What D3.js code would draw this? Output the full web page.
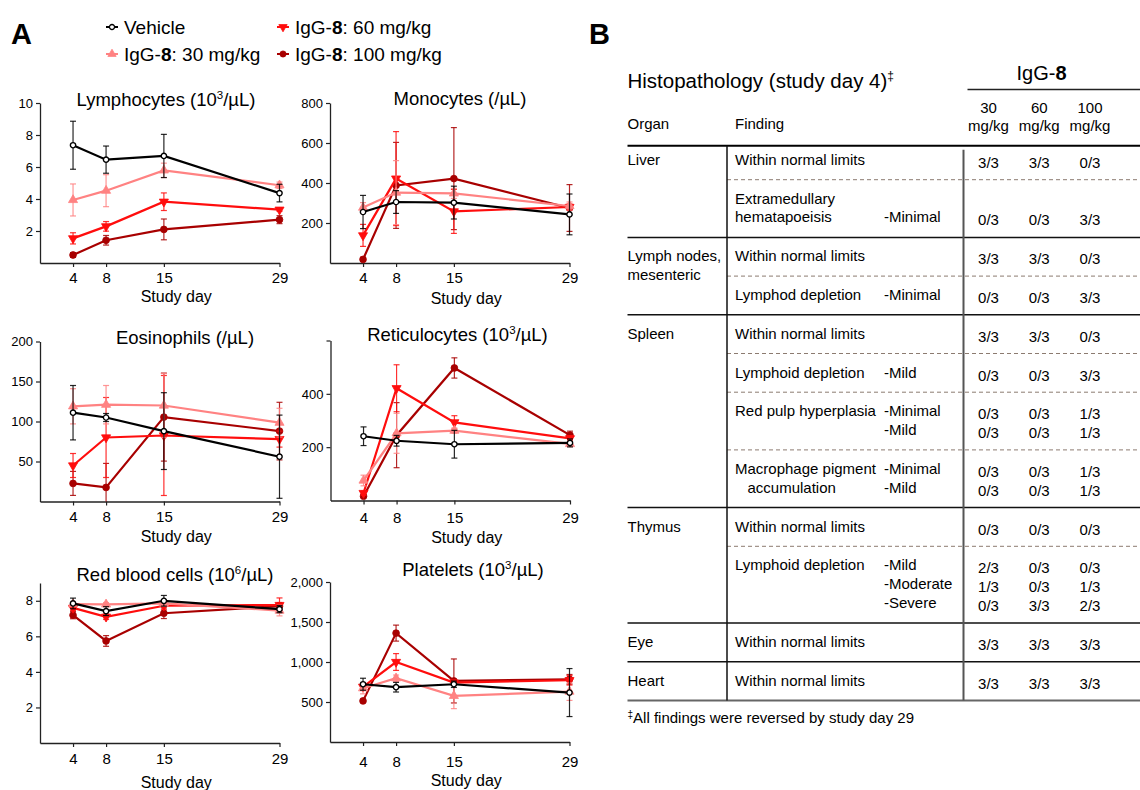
<!DOCTYPE html>
<html>
<head>
<meta charset="utf-8">
<script src="https://cdn.jsdelivr.net/npm/d3@7"></script>
<style>
  body { margin: 0; background: #fff; }
  text { font-family: "Liberation Sans", Arial, sans-serif; fill: #000; }
</style>
</head>
<body>
<svg id="fig" width="1140" height="790"></svg>
<script>
// ---- data ----
const days = [4, 8, 15, 29];
const groupNames = ["Vehicle", "30 mg/kg", "60 mg/kg", "100 mg/kg"];

// rows: Vehicle, 30, 60, 100 mg/kg ; mean and error per study day
const lymphMean = [[7.36, 6.46, 6.69, 4.37], [3.94, 4.52, 5.79, 4.86], [1.54, 2.29, 3.83, 3.33], [0.5, 1.42, 2.1, 2.71]];
const lymphErr  = [[1.5, 0.85, 1.35, 0.55], [1.0, 1.0, 0.45, 0.2], [0.35, 0.3, 0.55, 0.1], [0.15, 0.3, 0.65, 0.25]];

const monoMean = [[255, 305, 302, 243], [277, 352, 348, 285], [138, 422, 258, 280], [18, 388, 422, 275]];
const monoErr  = [[83, 57, 82, 102], [25, 160, 25, 20], [55, 235, 110, 15], [10, 215, 255, 117]];

const eosMean = [[111, 105, 88, 56], [119, 121, 120, 98.5], [45, 80, 82.5, 78], [22.6, 17.6, 105.5, 88]];
const eosErr  = [[34, 5, 48, 52], [22, 24, 40, 18], [15, 50, 75, 10], [15, 30, 55, 36]];

const retMean = [[241, 224, 211, 216], [75, 252, 262, 212], [28, 421, 293, 233], [16, 245, 497, 245]];
const retErr  = [[35, 20, 52, 15], [20, 75, 10, 10], [8, 88, 25, 10], [5, 122, 38, 15]];

const rbcMean = [[7.85, 7.42, 8.0, 7.53], [7.81, 7.8, 7.85, 7.45], [7.6, 7.1, 7.72, 7.76], [7.19, 5.74, 7.3, 7.7]];
const rbcErr  = [[0.3, 0.25, 0.3, 0.2], [0.1, 0.1, 0.15, 0.3], [0.15, 0.15, 0.2, 0.4], [0.2, 0.3, 0.3, 0.2]];

const pltMean = [[722, 685, 722, 618], [672, 797, 577, 630], [690, 1000, 742, 772], [514, 1361, 763, 784]];
const pltErr  = [[75, 60, 40, 300], [70, 40, 160, 110], [40, 105, 30, 60], [20, 100, 275, 60]];

// histopathology table
const organNames = [["Liver"], ["Lymph nodes,", "mesenteric"], ["Spleen"], ["Thymus"], ["Eye"], ["Heart"]];
const doseCols = ["30", "60", "100"];
// [organ index, lines of [finding, grade, 30, 60, 100]]
const histoBlocks = [
  [0, [["Within normal limits", "", "3/3", "3/3", "0/3"]]],
  [0, [["Extramedullary", "", "", "", ""], ["hematapoeisis", "-Minimal", "0/3", "0/3", "3/3"]]],
  [1, [["Within normal limits", "", "3/3", "3/3", "0/3"]]],
  [1, [["Lymphod depletion", "-Minimal", "0/3", "0/3", "3/3"]]],
  [2, [["Within normal limits", "", "3/3", "3/3", "0/3"]]],
  [2, [["Lymphoid depletion", "-Mild", "0/3", "0/3", "3/3"]]],
  [2, [["Red pulp hyperplasia", "-Minimal", "0/3", "0/3", "1/3"], ["", "-Mild", "0/3", "0/3", "1/3"]]],
  [2, [["Macrophage pigment", "-Minimal", "0/3", "0/3", "1/3"], ["   accumulation", "-Mild", "0/3", "0/3", "1/3"]]],
  [3, [["Within normal limits", "", "0/3", "0/3", "0/3"]]],
  [3, [["Lymphoid depletion", "-Mild", "2/3", "0/3", "0/3"], ["", "-Moderate", "1/3", "0/3", "1/3"], ["", "-Severe", "0/3", "3/3", "2/3"]]],
  [4, [["Within normal limits", "", "3/3", "3/3", "3/3"]]],
  [5, [["Within normal limits", "", "3/3", "3/3", "3/3"]]],
];

// ---- styles ----
const colors = ["#000000", "#ff8282", "#ff0d0d", "#a80000"];
const symbols = [d3.symbolCircle, d3.symbolTriangle, d3.symbolTriangle, d3.symbolCircle];
const symRotate = [0, 0, 180, 0];
const symFill = ["#fff", colors[1], colors[2], colors[3]];

const svg = d3.select("#fig");

// panel letters
svg.append("text").attr("x", 11).attr("y", 44).attr("font-size", 29).attr("font-weight", "bold").text("A");
svg.append("text").attr("x", 589).attr("y", 44).attr("font-size", 29).attr("font-weight", "bold").text("B");

// legend
const legendPos = [[112, 27], [112, 54], [283, 27], [283, 54]];
const legendLabels = [["Vehicle"], ["IgG-", "8", ": 30 mg/kg"], ["IgG-", "8", ": 60 mg/kg"], ["IgG-", "8", ": 100 mg/kg"]];
legendLabels.forEach((lab, i) => {
  const g = svg.append("g").attr("transform", `translate(${legendPos[i][0]},${legendPos[i][1]})`);
  g.append("line").attr("x1", -6).attr("x2", 6).attr("stroke", colors[i]).attr("stroke-width", 2);
  g.append("path")
    .attr("d", d3.symbol().type(symbols[i]).size(i === 0 ? 20 : 30)())
    .attr("transform", `rotate(${symRotate[i]})`)
    .attr("fill", symFill[i]).attr("stroke", colors[i]).attr("stroke-width", i === 0 ? 1.3 : 0.8);
  const t = g.append("text").attr("x", 12).attr("y", 7).attr("font-size", 19);
  lab.forEach((s, k) => t.append("tspan").attr("font-weight", k === 1 ? "bold" : null).text(s));
});

// ---- panels ----
const panels = [
  { title: ["Lymphocytes (10", "3", "/µL)"], mean: lymphMean, err: lymphErr, yMax: 10, ticks: [2, 4, 6, 8, 10], x0: 40, top: 103, tx: 126, ty: 106, tickOff: 20, labOff: 39 },
  { title: ["Monocytes (/µL)"], mean: monoMean, err: monoErr, yMax: 800, ticks: [200, 400, 600, 800], x0: 330, top: 103, tx: 130, ty: 105, tickOff: 20, labOff: 40.5 },
  { title: ["Eosinophils (/µL)"], mean: eosMean, err: eosErr, yMax: 200, ticks: [50, 100, 150, 200], x0: 40, top: 341.5, tx: 145, ty: 344, tickOff: 20, labOff: 40.5 },
  { title: ["Reticulocytes (10", "3", "/µL)"], mean: retMean, err: retErr, yMax: 600, ticks: [200, 400, 600], hideTop: true, x0: 330.5, top: 340.5, tx: 127, ty: 341, tickOff: 22, labOff: 42 },
  { title: ["Red blood cells (10", "6", "/µL)"], mean: rbcMean, err: rbcErr, yMax: 9, ticks: [2, 4, 6, 8], x0: 40, top: 583, tx: 135, ty: 581, tickOff: 21, labOff: 44.5 },
  { title: ["Platelets (10", "3", "/µL)"], mean: pltMean, err: pltErr, yMax: 2000, ticks: [500, 1000, 1500, 2000], fmt: d3.format(","), x0: 330, top: 582, tx: 143, ty: 576, tickOff: 24.5, labOff: 44 },
];

const plotW = 239.5, plotH = 160;

panels.forEach(p => {
  const x = d3.scaleLinear().domain([0, 29]).range([p.x0, p.x0 + plotW]);
  const y = d3.scaleLinear().domain([0, p.yMax]).range([p.top + plotH, p.top]);
  const g = svg.append("g");

  // y axis
  const ya = g.append("g").attr("transform", `translate(${p.x0},0)`)
    .call(d3.axisLeft(y).tickValues(p.ticks).tickSize(4).tickSizeOuter(0).tickPadding(3)
      .tickFormat(d => (p.hideTop && d === p.yMax) ? "" : (p.fmt ? p.fmt(d) : d)));
  ya.select(".domain").attr("stroke", "#222").attr("stroke-width", 1.3);
  ya.selectAll(".tick line").attr("stroke", "#222").attr("stroke-width", 1.2);
  ya.selectAll(".tick text").attr("font-size", 13).attr("font-family", null).attr("fill", "#000");

  // x axis
  const xa = g.append("g").attr("transform", `translate(0,${p.top + plotH})`)
    .call(d3.axisBottom(x).tickValues(days).tickSize(4).tickSizeOuter(0));
  xa.select(".domain").attr("stroke", "#222").attr("stroke-width", 1.3);
  xa.selectAll(".tick line").attr("stroke", "#222").attr("stroke-width", 1.2);
  xa.selectAll(".tick text").attr("font-size", 15).attr("font-family", null).attr("fill", "#000")
    .attr("y", p.tickOff).attr("dy", null);

  g.append("text").attr("x", x(16.5)).attr("y", p.top + plotH + p.labOff)
    .attr("text-anchor", "middle").attr("font-size", 16).text("Study day");

  // title
  const t = g.append("text").attr("x", p.x0 + p.tx).attr("y", p.ty)
    .attr("text-anchor", "middle").attr("font-size", 18.5);
  t.append("tspan").text(p.title[0]);
  if (p.title.length > 1) {
    t.append("tspan").attr("font-size", 11.5).attr("dy", -7).text(p.title[1]);
    t.append("tspan").attr("dy", 7).text(p.title[2]);
  }

  // series, highest dose first so vehicle sits on top
  [3, 2, 1, 0].forEach(gi => {
    const pts = days.map((d, k) => ({ d, m: p.mean[gi][k], e: p.err[gi][k] }));
    const sg = g.append("g");
    const eb = sg.selectAll(".eb").data(pts).enter().append("g")
      .attr("stroke", colors[gi]).attr("stroke-width", 1.2).attr("stroke-opacity", 0.85);
    eb.append("line")
      .attr("x1", v => x(v.d)).attr("x2", v => x(v.d))
      .attr("y1", v => y(Math.max(0, v.m - v.e))).attr("y2", v => y(v.m + v.e));
    eb.append("line")
      .attr("x1", v => x(v.d) - 3).attr("x2", v => x(v.d) + 3)
      .attr("y1", v => y(v.m + v.e)).attr("y2", v => y(v.m + v.e));
    eb.filter(v => v.m - v.e > 0).append("line")
      .attr("x1", v => x(v.d) - 3).attr("x2", v => x(v.d) + 3)
      .attr("y1", v => y(v.m - v.e)).attr("y2", v => y(v.m - v.e));

    sg.append("path").datum(pts)
      .attr("fill", "none").attr("stroke", colors[gi]).attr("stroke-width", 2.2)
      .attr("d", d3.line().x(v => x(v.d)).y(v => y(v.m)));

    sg.selectAll(".pt").data(pts).enter().append("path")
      .attr("d", d3.symbol().type(symbols[gi]).size(gi === 0 ? 22 : 36)())
      .attr("transform", v => `translate(${x(v.d)},${y(v.m)}) rotate(${symRotate[gi]})`)
      .attr("fill", symFill[gi]).attr("stroke", colors[gi]).attr("stroke-width", gi === 0 ? 1.4 : 0.8);
  });
});

// ---- table B ----
const tb = svg.append("g");
const colOrgan = 627.5, colFind = 735, colGrade = 884, vLine1 = 727, vLine2 = 963.5, rightEdge = 1140;
const colX = d3.scalePoint().domain(doseCols).range([988.5, 1090]);
const fs = 15, lineH = 18.6;

const title = tb.append("text").attr("x", colOrgan).attr("y", 88).attr("font-size", 20.5);
title.append("tspan").text("Histopathology (study day 4)");
title.append("tspan").attr("font-size", 12).attr("dy", -8).text("‡");

const igg = tb.append("text").attr("x", 1041.5).attr("y", 80).attr("text-anchor", "middle").attr("font-size", 20);
igg.append("tspan").text("IgG-");
igg.append("tspan").attr("font-weight", "bold").text("8");
tb.append("line").attr("x1", 967.5).attr("x2", rightEdge).attr("y1", 89.5).attr("y2", 89.5)
  .attr("stroke", "#222").attr("stroke-width", 1.5);

doseCols.forEach(c => {
  tb.append("text").attr("x", colX(c)).attr("y", 112.5).attr("text-anchor", "middle").attr("font-size", fs).text(c);
  tb.append("text").attr("x", colX(c)).attr("y", 131).attr("text-anchor", "middle").attr("font-size", fs).text("mg/kg");
});
tb.append("text").attr("x", colOrgan).attr("y", 128.5).attr("font-size", fs).text("Organ");
tb.append("text").attr("x", colFind).attr("y", 128.5).attr("font-size", fs).text("Finding");

const headY = 145.7;
tb.append("line").attr("x1", colOrgan).attr("x2", rightEdge).attr("y1", headY).attr("y2", headY)
  .attr("stroke", "#000").attr("stroke-width", 2);

let yCur = headY;
histoBlocks.forEach((b, i) => {
  const [oi, lines] = b;
  const firstOfOrgan = i === 0 || histoBlocks[i - 1][0] !== oi;
  if (i > 0) {
    tb.append("line")
      .attr("x1", firstOfOrgan ? colOrgan : vLine1).attr("x2", rightEdge)
      .attr("y1", yCur).attr("y2", yCur)
      .attr("stroke", firstOfOrgan ? "#111" : "#8c7b70")
      .attr("stroke-width", firstOfOrgan ? 1.5 : 1)
      .attr("stroke-dasharray", firstOfOrgan ? null : "4,3");
  }
  const base = yCur + (i === 0 ? 19.5 : 24);
  if (firstOfOrgan) {
    organNames[oi].forEach((s, k) => {
      tb.append("text").attr("x", colOrgan).attr("y", base + k * lineH).attr("font-size", fs).text(s);
    });
  }
  lines.forEach((ln, k) => {
    const yy = base + k * lineH;
    tb.append("text").attr("x", colFind).attr("y", yy).attr("font-size", fs)
      .style("white-space", "pre").text(ln[0]);
    tb.append("text").attr("x", colGrade).attr("y", yy).attr("font-size", fs).text(ln[1]);
    doseCols.forEach((c, ci) => {
      tb.append("text").attr("x", colX(c)).attr("y", yy + 3).attr("text-anchor", "middle")
        .attr("font-size", fs).text(ln[2 + ci]);
    });
  });
  yCur += (i === 0 ? 15 : 19.7) + 19 * lines.length;
});
const bottomY = yCur;
tb.append("line").attr("x1", colOrgan).attr("x2", rightEdge).attr("y1", bottomY).attr("y2", bottomY)
  .attr("stroke", "#666").attr("stroke-width", 2);
tb.append("line").attr("x1", vLine1).attr("x2", vLine1).attr("y1", headY).attr("y2", bottomY)
  .attr("stroke", "#111").attr("stroke-width", 1.5);
tb.append("line").attr("x1", vLine2).attr("x2", vLine2).attr("y1", headY + 4).attr("y2", bottomY)
  .attr("stroke", "#555").attr("stroke-width", 2);

const foot = tb.append("text").attr("x", colOrgan).attr("y", bottomY + 23).attr("font-size", fs);
foot.append("tspan").attr("font-size", 10).attr("dy", -5).text("‡");
foot.append("tspan").attr("dy", 5).text("All findings were reversed by study day 29");
</script>
</body>
</html>
